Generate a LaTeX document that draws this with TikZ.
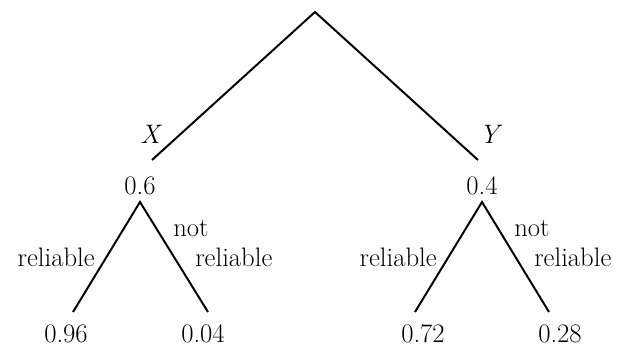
\documentclass[tikz,border=0pt]{standalone}
\usepackage{tikz}
\usetikzlibrary{positioning}

\begin{document}
\begin{tikzpicture}[
    x=0.025cm, y=-0.025cm,
    branch/.style={draw, line width=1.4pt},
    prob/.style={anchor=base, inner sep=0pt, font=\fontsize{19pt}{23pt}\selectfont},
    lbl/.style={inner sep=0pt, font=\fontsize{19pt}{23pt}\selectfont}
]
\useasboundingbox (0,0) rectangle (620,347);

% Root split
\coordinate (root) at (315,12);
\coordinate (xend) at (152,160);
\coordinate (yend) at (478,160);
\draw[branch] (xend) -- (root) -- (yend);
\node[prob] (xlab) at (150,144) {\itshape X};
\node[prob] (ylab) at (489,144) {\itshape Y};
\node[prob] (px) at (140,195) {0.6};
\node[prob] (py) at (482,195) {0.4};

% Subtree X
\coordinate (xtop) at (140,202);
\coordinate (xrel) at (73,312);
\coordinate (xnot) at (208,312);
\draw[branch] (xrel) -- (xtop) -- (xnot);
\node[lbl, anchor=base east] (xrellab) at (95,267) {reliable};
\node[lbl, anchor=base west] (xnotlab1) at (173,237) {not};
\node[lbl, anchor=base west] (xnotlab2) at (195,267) {reliable};
\node[prob] (pxrel) at (66,343) {0.96};
\node[prob] (pxnot) at (203,343) {0.04};

% Subtree Y
\coordinate (ytop) at (482,202);
\coordinate (yrel) at (415,312);
\coordinate (ynot) at (549,312);
\draw[branch] (yrel) -- (ytop) -- (ynot);
\node[lbl, anchor=base east] (yrellab) at (437,267) {reliable};
\node[lbl, anchor=base west] (ynotlab1) at (514,237) {not};
\node[lbl, anchor=base west] (ynotlab2) at (534,267) {reliable};
\node[prob] (pyrel) at (423,343) {0.72};
\node[prob] (pynot) at (560,343) {0.28};

\end{tikzpicture}
\end{document}
